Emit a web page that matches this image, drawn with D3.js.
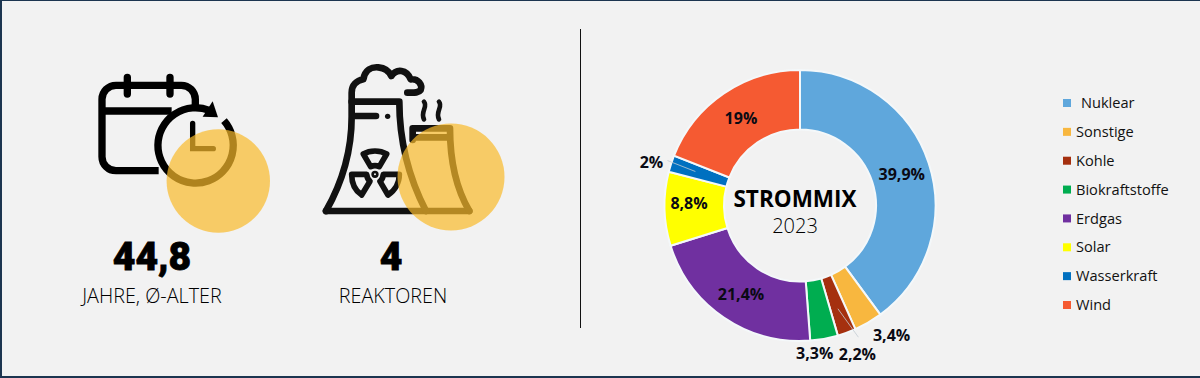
<!DOCTYPE html>
<html><head><meta charset="utf-8">
<script src="https://cdn.jsdelivr.net/npm/d3@7/dist/d3.min.js"></script>
<style>html,body{margin:0;padding:0;background:#f2f2f2;overflow:hidden}svg{display:block}</style>
</head><body><div id="chart"></div>
<script>
const categories = ["Nuklear","Sonstige","Kohle","Biokraftstoffe","Erdgas","Solar","Wasserkraft","Wind"];
const shares = [39.9,3.4,2.2,3.3,21.4,8.8,2,19];
const shareLabels = ["39,9%","3,4%","2,2%","3,3%","21,4%","8,8%","2%","19%"];
const colors = ["#5fa7dc","#f8b73f","#a5300f","#00ad50","#7030a0","#ffff00","#0070c0","#f55a32"];
const kpiValues = ["44,8","4"];
const kpiLabels = ["JAHRE, Ø-ALTER","REAKTOREN"];

const W=1200,H=378;
const svg=d3.select("#chart").append("svg").attr("width",W).attr("height",H);
svg.append("rect").attr("width",W).attr("height",H).attr("fill","#f2f2f2");
// frame
const frame="#1c3550";
svg.append("rect").attr("x",0).attr("y",0).attr("width",2).attr("height",H).attr("fill",frame);
svg.append("rect").attr("x",0).attr("y",376).attr("width",W).attr("height",2).attr("fill",frame);
svg.append("rect").attr("x",0).attr("y",0).attr("width",W).attr("height",1).attr("fill",frame);
svg.append("line").attr("x1",580.5).attr("x2",580.5).attr("y1",29).attr("y2",328).attr("stroke","#111").attr("stroke-width",1);

// calendar + clock icon
const cal=svg.append("g").attr("transform","translate(60,50) scale(0.3333)")
  .attr("fill","none").attr("stroke","#000").attr("stroke-width",22).attr("stroke-linecap","round").attr("stroke-linejoin","round");
cal.append("path").attr("stroke-linecap","butt").attr("d","M296,362 H168 A42,42 0 0 1 126,320 V148 A42,42 0 0 1 168,106 H364 A42,42 0 0 1 406,148 V168");
cal.append("path").attr("stroke-linecap","butt").attr("d","M126,183 H335");
cal.append("path").attr("d","M202,82 V132 M330,82 V132");
cal.append("path").attr("stroke-linecap","butt").attr("d","M492,212 A113,113 0 1 1 448,181");
cal.append("path").attr("fill","#000").attr("stroke","none").attr("d","M458,154 L474,202 L428,200 Z");
cal.append("path").attr("stroke-width",16).attr("stroke-linejoin","miter").attr("d","M398,220 V296 H460");
svg.append("circle").attr("cx",218.3).attr("cy",181).attr("r",51.7).attr("fill","rgb(250,186,43)").attr("opacity",.7);

// plant icon
const pl=svg.append("g").attr("transform","translate(300,50) scale(0.3333)")
  .attr("fill","none").attr("stroke","#111").attr("stroke-width",20).attr("stroke-linecap","round").attr("stroke-linejoin","round");
pl.append("path").attr("d","M78,483 H508");
pl.append("path").attr("d","M78,483 C125,400 155,300 155,200 V128 C155,105 170,92 190,88 C195,60 215,50 235,52 C255,54 268,65 274,78 C290,55 320,58 332,88 C355,85 368,105 362,120 C355,130 340,128 322,128");
pl.append("path").attr("d","M155,155 H298 C298,260 320,370 378,483");
pl.append("path").attr("d","M165,198 H228");
pl.append("circle").attr("cx",263).attr("cy",199).attr("r",8).attr("fill","#111").attr("stroke","none");
pl.append("path").attr("stroke-width",14).attr("d","M372,155 C385,170 360,185 372,208 M417,155 C430,170 405,185 417,208");
pl.append("path").attr("d","M338,270 V235 H450 C450,330 465,410 508,483");
pl.append("path").attr("d","M345,262 H445");
pl.append("g").attr("stroke-width",17).selectAll("path").data([
 "M190,312 C210,300 240,300 260,312 L238,350 C230,346 220,346 212,350 Z",
 "M155,373 H200 C201,382 205,390 210,394 L185,435 C165,422 155,398 155,373 Z",
 "M250,373 H298 C298,398 285,422 264,435 L240,394 C246,390 249,382 250,373 Z"
]).join("path").attr("d",d=>d);
pl.append("circle").attr("cx",225).attr("cy",373).attr("r",7).attr("stroke-width",8);
svg.append("circle").attr("cx",451).attr("cy",177).attr("r",53.5).attr("fill","rgb(250,186,43)").attr("opacity",.7);

// KPI text
const kpiX=[152,391], kpiLabelX=[152,393];
svg.selectAll(".kv").data(kpiValues).join("text").attr("class","kv")
  .attr("x",(d,i)=>kpiX[i]).attr("y",270).attr("text-anchor","middle")
  .attr("font-family","Roboto,sans-serif").attr("font-weight",900).attr("font-size",39)
  .attr("stroke","#000").attr("stroke-width",.8).attr("fill","#000").text(d=>d);
svg.selectAll(".kl").data(kpiLabels).join("text").attr("class","kl")
  .attr("x",(d,i)=>kpiLabelX[i]).attr("y",303).attr("text-anchor","middle")
  .attr("font-family","'Open Sans',sans-serif").attr("font-weight",300).attr("font-size",19.8)
  .attr("fill","#000").text(d=>d);

// donut
const cx=800,cy=205.5,R=135.5,r0=76;
const g=svg.append("g").attr("transform",`translate(${cx},${cy})`);
const rows=categories.map((c,i)=>({c,v:shares[i],l:shareLabels[i],col:colors[i]}));
const pie=d3.pie().value(d=>d.v).sort(null);
const arc=d3.arc().innerRadius(r0).outerRadius(R);
const arcs=pie(rows);
g.selectAll("path.s").data(arcs).join("path").attr("class","s").attr("d",arc)
  .attr("fill",d=>d.data.col).attr("stroke","#f4f8fa").attr("stroke-width",2);

// label placement: radius from the centre plus per-category nudges
const labelRadius={Sonstige:158,Kohle:152,Biokraftstoffe:150,Wasserkraft:152};
const nudge={Sonstige:[12,-7],Kohle:[5,6],Biokraftstoffe:[-12,0],Solar:[-6,-5],Wasserkraft:[-4,4],Erdgas:[0,2],Nuklear:[2,1]};
const leadEnd={Kohle:[1,-17],Wasserkraft:[16,-2]};
const lp=d=>{const a=(d.startAngle+d.endAngle)/2,rad=labelRadius[d.data.c]||105,n=nudge[d.data.c]||[0,0];
  return [Math.sin(a)*rad+n[0],-Math.cos(a)*rad+n[1]];};
// leader lines
g.selectAll("path.lead").data(arcs.filter(d=>leadEnd[d.data.c])).join("path").attr("class","lead")
  .attr("fill","none").attr("stroke","#c3ccd3").attr("stroke-width",.8)
  .attr("d",d=>{const a=(d.startAngle+d.endAngle)/2,p=[Math.sin(a)*110,-Math.cos(a)*110],l=lp(d),e=leadEnd[d.data.c];
    return d3.line()([p,[l[0]+e[0],l[1]+e[1]]]);});
g.selectAll("text.lb").data(arcs).join("text").attr("class","lb")
  .attr("transform",d=>`translate(${lp(d)})`).attr("text-anchor","middle").attr("dy","0.36em")
  .attr("font-family","'Open Sans',sans-serif").attr("font-weight",700).attr("font-size",16)
  .attr("fill","#0a0a14").text(d=>d.data.l);
svg.append("text").attr("x",795).attr("y",207).attr("text-anchor","middle")
  .attr("font-family","'Open Sans',sans-serif").attr("font-weight",700).attr("font-size",22.5).attr("fill","#000").text("STROMMIX");
svg.append("text").attr("x",795).attr("y",233).attr("text-anchor","middle")
  .attr("font-family","'Open Sans',sans-serif").attr("font-weight",300).attr("font-size",20).attr("fill","#000").text("2023");

// legend
const ly=d3.scalePoint().domain(categories).range([103,305]);
const lg=svg.append("g").selectAll("g").data(rows).join("g").attr("transform",d=>`translate(1063,${ly(d.c)})`);
lg.append("rect").attr("y",-4).attr("width",8).attr("height",8).attr("fill",d=>d.col);
lg.append("text").attr("x",(d,i)=>i===0?18:13).attr("dy","0.35em")
  .attr("font-family","'Open Sans',sans-serif").attr("font-size",14.6).attr("fill","#111").text(d=>d.c);
</script></body></html>
